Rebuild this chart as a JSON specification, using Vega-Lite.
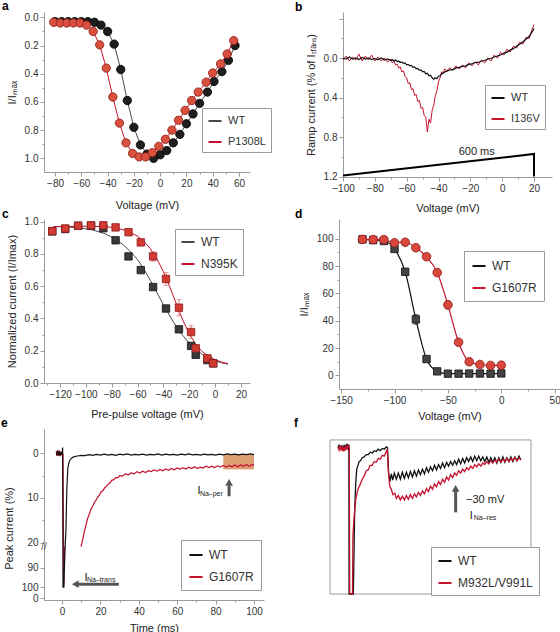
{
"$schema": "https://vega.github.io/schema/vega-lite/v6.json",
"padding": {"left": 0, "top": 0, "right": 0, "bottom": 0},
"config": {
 "font": "Liberation Sans",
 "view": {"stroke": null},
 "axis": {"domainColor": "#9a9a9a", "tickColor": "#9a9a9a", "labelColor": "#333", "titleColor": "#222", "labelFontSize": 10, "titleFontSize": 11, "titleFontWeight": "normal", "grid": false, "tickSize": 4, "labelPadding": 2, "titlePadding": 7, "labelFlush": false, "labelOverlap": false, "tickCount": 60},
 "legend": {"orient": "none", "strokeColor": "#999", "fillColor": "white", "padding": 5, "symbolType": "stroke", "symbolStrokeWidth": 2, "symbolSize": 170, "labelFontSize": 11, "labelColor": "#333", "rowPadding": 8, "labelOffset": 5}
},
"datasets": {
 "a": [
  {"v":-81,"P":0.035,"vw":-80,"W":0.03},{"v":-76,"P":0.04,"vw":-75,"W":0.03},{"v":-71,"P":0.04,"vw":-70,"W":0.03},{"v":-66,"P":0.04,"vw":-65,"W":0.03},{"v":-61,"P":0.04,"vw":-60,"W":0.03},{"v":-56,"P":0.055,"vw":-55,"W":0.03},{"v":-51,"P":0.1,"vw":-50,"W":0.035},{"v":-46,"P":0.195,"vw":-45,"W":0.055},{"v":-41,"P":0.36,"vw":-40,"W":0.1},{"v":-36,"P":0.565,"vw":-35,"W":0.19},{"v":-31,"P":0.75,"vw":-30,"W":0.37},{"v":-26,"P":0.89,"vw":-25,"W":0.59},{"v":-21,"P":0.965,"vw":-20,"W":0.78},{"v":-16,"P":0.99,"vw":-15,"W":0.905},{"v":-11,"P":0.99,"vw":-10,"W":0.97},{"v":-6,"P":0.96,"vw":-5,"W":1.0},{"v":-1,"P":0.915,"vw":0,"W":0.975},{"v":4,"P":0.865,"vw":5,"W":0.945},{"v":9,"P":0.8,"vw":10,"W":0.89},{"v":14,"P":0.73,"vw":15,"W":0.83},{"v":19,"P":0.66,"vw":20,"W":0.755},{"v":24,"P":0.59,"vw":25,"W":0.685},{"v":29,"P":0.53,"vw":30,"W":0.61},{"v":35,"P":0.46,"vw":36,"W":0.53},{"v":40,"P":0.395,"vw":41,"W":0.455},{"v":46,"P":0.33,"vw":47,"W":0.385},{"v":51,"P":0.26,"vw":52,"W":0.305},{"v":56,"P":0.165,"vw":57,"W":0.2}
 ],
 "b": [
  {"v":-100,"W":0.0,"R":0.02},{"v":-98,"W":0.01,"R":-0.02},{"v":-96,"W":-0.01,"R":0.03},{"v":-94,"W":0.01,"R":-0.01},{"v":-92,"W":0.0,"R":0.02},{"v":-90,"W":0.015,"R":-0.04},{"v":-88,"W":-0.005,"R":0.03},{"v":-86,"W":0.01,"R":-0.02},{"v":-84,"W":0.0,"R":0.02},{"v":-82,"W":0.015,"R":-0.03},{"v":-80,"W":0.005,"R":0.03},{"v":-78,"W":0.015,"R":-0.01},{"v":-76,"W":0.0,"R":0.03},{"v":-74,"W":0.02,"R":0.0},{"v":-72,"W":0.01,"R":0.04},{"v":-70,"W":0.025,"R":0.01},{"v":-69,"W":0.015,"R":0.05},{"v":-68,"W":0.03,"R":0.03},{"v":-67,"W":0.02,"R":0.07},{"v":-66,"W":0.035,"R":0.06},{"v":-65,"W":0.03,"R":0.1},{"v":-64,"W":0.045,"R":0.09},{"v":-63,"W":0.04,"R":0.14},{"v":-62,"W":0.055,"R":0.13},{"v":-61,"W":0.05,"R":0.19},{"v":-60,"W":0.07,"R":0.2},{"v":-59,"W":0.065,"R":0.26},{"v":-58,"W":0.08,"R":0.25},{"v":-57,"W":0.075,"R":0.32},{"v":-56,"W":0.095,"R":0.31},{"v":-55,"W":0.09,"R":0.38},{"v":-54,"W":0.11,"R":0.37},{"v":-53,"W":0.105,"R":0.44},{"v":-52,"W":0.125,"R":0.43},{"v":-51,"W":0.12,"R":0.51},{"v":-50,"W":0.14,"R":0.5},{"v":-49,"W":0.135,"R":0.58},{"v":-48,"W":0.16,"R":0.6},{"v":-47,"W":0.155,"R":0.75},{"v":-46,"W":0.18,"R":0.62},{"v":-45,"W":0.175,"R":0.66},{"v":-44,"W":0.2,"R":0.53},{"v":-43,"W":0.215,"R":0.48},{"v":-42,"W":0.2,"R":0.38},{"v":-41,"W":0.21,"R":0.33},{"v":-40,"W":0.185,"R":0.24},{"v":-39,"W":0.18,"R":0.2},{"v":-38,"W":0.16,"R":0.14},{"v":-37,"W":0.155,"R":0.15},{"v":-36,"W":0.14,"R":0.11},{"v":-35,"W":0.135,"R":0.13},{"v":-33,"W":0.12,"R":0.1},{"v":-31,"W":0.12,"R":0.12},{"v":-29,"W":0.1,"R":0.08},{"v":-27,"W":0.095,"R":0.11},{"v":-25,"W":0.085,"R":0.07},{"v":-23,"W":0.08,"R":0.1},{"v":-21,"W":0.065,"R":0.05},{"v":-19,"W":0.06,"R":0.08},{"v":-17,"W":0.045,"R":0.04},{"v":-15,"W":0.045,"R":0.07},{"v":-13,"W":0.03,"R":0.02},{"v":-11,"W":0.025,"R":0.05},{"v":-9,"W":0.01,"R":0.0},{"v":-7,"W":0.005,"R":0.03},{"v":-5,"W":-0.01,"R":-0.03},{"v":-3,"W":-0.02,"R":0.0},{"v":-1,"W":-0.03,"R":-0.06},{"v":1,"W":-0.05,"R":-0.03},{"v":3,"W":-0.06,"R":-0.09},{"v":5,"W":-0.08,"R":-0.06},{"v":7,"W":-0.095,"R":-0.12},{"v":9,"W":-0.12,"R":-0.1},{"v":11,"W":-0.14,"R":-0.16},{"v":13,"W":-0.165,"R":-0.14},{"v":15,"W":-0.19,"R":-0.21},{"v":17,"W":-0.22,"R":-0.2},{"v":19,"W":-0.27,"R":-0.3},{"v":20,"W":-0.3,"R":-0.34}
 ],
 "ramp": [{"v":-100,"r":1.19,"o":1},{"v":20,"r":0.972,"o":2},{"v":20,"r":1.2,"o":3}],
 "c": [
  {"v":-126,"W":0.94,"N":0.942,"eW":0.01,"eN":0.01},{"v":-116,"W":0.955,"N":0.958,"eW":0.01,"eN":0.01},{"v":-106,"W":0.975,"N":0.975,"eW":0.01,"eN":0.01},{"v":-96,"W":0.975,"N":0.978,"eW":0.01,"eN":0.01},{"v":-86.5,"W":0.96,"N":0.978,"eW":0.01,"eN":0.01},{"v":-77,"W":0.885,"N":0.965,"eW":0.012,"eN":0.01},{"v":-67,"W":0.785,"N":0.935,"eW":0.015,"eN":0.01},{"v":-57.5,"W":0.7,"N":0.872,"eW":0.015,"eN":0.02},{"v":-48,"W":0.595,"N":0.785,"eW":0.015,"eN":0.03},{"v":-38,"W":0.462,"N":0.645,"eW":0.015,"eN":0.04},{"v":-28,"W":0.333,"N":0.467,"eW":0.015,"eN":0.05},{"v":-18.6,"W":0.23,"N":0.316,"eW":0.01,"eN":0.04},{"v":-15,"W":0.175,"N":0.215,"eW":0.01,"eN":0.02},{"v":-6,"W":0.142,"N":0.153,"eW":0.01,"eN":0.01},{"v":-1.5,"W":0.122,"N":0.122,"eW":0.01,"eN":0.01}
 ],
 "cfit": [
  {"v":-125,"W":0.97,"N":0.97},{"v":-115,"W":0.968,"N":0.971},{"v":-105,"W":0.962,"N":0.972},{"v":-95,"W":0.95,"N":0.972},{"v":-85,"W":0.925,"N":0.97},{"v":-80,"W":0.905,"N":0.965},{"v":-75,"W":0.88,"N":0.958},{"v":-70,"W":0.85,"N":0.948},{"v":-65,"W":0.81,"N":0.932},{"v":-60,"W":0.765,"N":0.91},{"v":-55,"W":0.705,"N":0.878},{"v":-50,"W":0.635,"N":0.832},{"v":-45,"W":0.56,"N":0.77},{"v":-40,"W":0.485,"N":0.69},{"v":-35,"W":0.415,"N":0.595},{"v":-30,"W":0.35,"N":0.49},{"v":-25,"W":0.295,"N":0.39},{"v":-20,"W":0.248,"N":0.305},{"v":-15,"W":0.21,"N":0.24},{"v":-10,"W":0.178,"N":0.195},{"v":-5,"W":0.155,"N":0.165},{"v":0,"W":0.138,"N":0.145},{"v":5,"W":0.125,"N":0.13},{"v":10,"W":0.117,"N":0.12}
 ],
 "d": [
  {"v":-130,"W":99.5,"R":99.5,"eW":0.8,"eR":0.8},{"v":-120,"W":99,"R":99.3,"eW":0.8,"eR":0.8},{"v":-110,"W":98.3,"R":99.3,"eW":0.8,"eR":0.8},{"v":-100,"W":92.5,"R":97,"eW":1.5,"eR":1},{"v":-90,"W":75.8,"R":97.4,"eW":2.5,"eR":1},{"v":-80,"W":41,"R":93.4,"eW":3.5,"eR":1},{"v":-70,"W":12,"R":86.8,"eW":1.5,"eR":1.5},{"v":-60,"W":3,"R":75.2,"eW":0.8,"eR":2},{"v":-50,"W":1.3,"R":51.6,"eW":0.5,"eR":3},{"v":-40,"W":1.3,"R":24.3,"eW":0.5,"eR":2},{"v":-30,"W":1.4,"R":10,"eW":0.5,"eR":1},{"v":-20,"W":1.4,"R":8,"eW":0.5,"eR":1},{"v":-10,"W":1.3,"R":7.3,"eW":0.5,"eR":1},{"v":0,"W":1.5,"R":7.5,"eW":0.5,"eR":1}
 ],
 "eW": [
  {"t":-3,"v":0.3},{"t":-2.5,"v":-0.4},{"t":-2,"v":0.5},{"t":-1.5,"v":-0.3},{"t":-1,"v":0.4},{"t":-0.5,"v":-0.2},{"t":0,"v":0.1},{"t":0.3,"v":-1.3},{"t":0.5,"v":100},{"t":0.9,"v":100},{"t":1.6,"v":50},{"t":2,"v":17.5},{"t":2.5,"v":8},{"t":3,"v":3.4},{"t":3.5,"v":2.2},{"t":4,"v":1.6},{"t":5,"v":1.1},{"t":6,"v":0.8},{"t":8,"v":0.6},{"t":10,"v":0.45},{"t":12,"v":0.5},{"t":14,"v":0.3},{"t":16,"v":0.45},{"t":18,"v":0.25},{"t":20,"v":0.4},{"t":22,"v":0.2},{"t":24,"v":0.4},{"t":26,"v":0.25},{"t":28,"v":0.45},{"t":30,"v":0.2},{"t":32,"v":0.35},{"t":34,"v":0.15},{"t":36,"v":0.4},{"t":38,"v":0.25},{"t":40,"v":0.35},{"t":42,"v":0.2},{"t":44,"v":0.4},{"t":46,"v":0.25},{"t":48,"v":0.35},{"t":50,"v":0.15},{"t":52,"v":0.4},{"t":54,"v":0.2},{"t":56,"v":0.35},{"t":58,"v":0.25},{"t":60,"v":0.4},{"t":62,"v":0.2},{"t":64,"v":0.35},{"t":66,"v":0.15},{"t":68,"v":0.35},{"t":70,"v":0.25},{"t":72,"v":0.4},{"t":74,"v":0.2},{"t":76,"v":0.35},{"t":78,"v":0.25},{"t":80,"v":0.4},{"t":82,"v":0.2},{"t":84,"v":0.35},{"t":86,"v":0.15},{"t":88,"v":0.3},{"t":90,"v":0.2},{"t":92,"v":0.35},{"t":94,"v":0.2},{"t":96,"v":0.3},{"t":98,"v":0.15},{"t":100,"v":0.3}
 ],
 "eG": [
  {"t":-3,"v":-0.5,"s":1},{"t":-2.7,"v":0.6,"s":1},{"t":-2.4,"v":-0.4,"s":1},{"t":-2.1,"v":0.5,"s":1},{"t":-1.8,"v":-0.6,"s":1},{"t":-1.5,"v":0.4,"s":1},{"t":-1.2,"v":-0.5,"s":1},{"t":-0.9,"v":0.6,"s":1},{"t":-0.6,"v":-0.3,"s":1},{"t":-0.3,"v":0.4,"s":1},{"t":0,"v":0,"s":1},{"t":0.5,"v":0.2,"s":1},{"t":0.9,"v":100,"s":1},{"t":1.3,"v":79,"s":1},
  {"t":9.9,"v":20.9,"s":2},{"t":10.8,"v":19.2,"s":2},{"t":11.6,"v":17.6,"s":2},{"t":12.5,"v":16.0,"s":2},{"t":13.3,"v":14.6,"s":2},{"t":14.2,"v":13.6,"s":2},{"t":15,"v":12.6,"s":2},{"t":15.9,"v":11.9,"s":2},{"t":16.8,"v":11.0,"s":2},{"t":17.7,"v":10.5,"s":2},{"t":18.6,"v":9.8,"s":2},{"t":19.5,"v":9.3,"s":2},{"t":20.4,"v":8.6,"s":2},{"t":21.3,"v":8.4,"s":2},{"t":22.2,"v":7.7,"s":2},{"t":23.1,"v":7.4,"s":2},{"t":24,"v":6.9,"s":2},{"t":25,"v":6.6,"s":2},{"t":26,"v":6.0,"s":2},{"t":27,"v":5.9,"s":2},{"t":28,"v":5.4,"s":2},{"t":29,"v":5.5,"s":2},{"t":30,"v":5.0,"s":2},{"t":31.5,"v":5.1,"s":2},{"t":33,"v":4.6,"s":2},{"t":34.5,"v":4.8,"s":2},{"t":36,"v":4.4,"s":2},{"t":37.5,"v":4.6,"s":2},{"t":39,"v":4.1,"s":2},{"t":40.5,"v":4.4,"s":2},{"t":42,"v":4.0,"s":2},{"t":43.5,"v":4.3,"s":2},{"t":45,"v":3.9,"s":2},{"t":46.5,"v":4.1,"s":2},{"t":48,"v":3.7,"s":2},{"t":49.5,"v":4.0,"s":2},{"t":51,"v":3.6,"s":2},{"t":52.5,"v":3.9,"s":2},{"t":54,"v":3.5,"s":2},{"t":55.5,"v":3.8,"s":2},{"t":57,"v":3.4,"s":2},{"t":58.5,"v":3.7,"s":2},{"t":60,"v":3.3,"s":2},{"t":61.5,"v":3.6,"s":2},{"t":63,"v":3.2,"s":2},{"t":64.5,"v":3.5,"s":2},{"t":66,"v":3.1,"s":2},{"t":67.5,"v":3.4,"s":2},{"t":69,"v":3.0,"s":2},{"t":70.5,"v":3.4,"s":2},{"t":72,"v":3.1,"s":2},{"t":73.5,"v":3.3,"s":2},{"t":75,"v":2.9,"s":2},{"t":76.5,"v":3.2,"s":2},{"t":78,"v":2.9,"s":2},{"t":79.5,"v":3.2,"s":2},{"t":81,"v":2.8,"s":2},{"t":82.5,"v":3.1,"s":2},{"t":84,"v":2.7,"s":2},{"t":85.5,"v":3.1,"s":2},{"t":87,"v":2.7,"s":2},{"t":88.5,"v":3.0,"s":2},{"t":90,"v":2.6,"s":2},{"t":91.5,"v":3.0,"s":2},{"t":93,"v":2.6,"s":2},{"t":94.5,"v":2.9,"s":2},{"t":96,"v":2.5,"s":2},{"t":97.5,"v":2.9,"s":2},{"t":99,"v":2.5,"s":2},{"t":100,"v":2.7,"s":2}
 ],
 "fW": [
  {"t":4,"v":5.5},{"t":4.5,"v":3},{"t":5,"v":6},{"t":5.5,"v":3.5},{"t":6,"v":6.5},{"t":6.5,"v":4},{"t":7,"v":6},{"t":7.5,"v":3},{"t":8,"v":5.5},{"t":8.5,"v":2.5},{"t":9,"v":5},{"t":9.4,"v":3},{"t":9.5,"v":100},{"t":11.6,"v":100},{"t":12.3,"v":45},{"t":12.8,"v":28},{"t":13.3,"v":19},{"t":13.8,"v":17},{"t":14.5,"v":14},{"t":15.2,"v":13.5},{"t":16,"v":11.5},{"t":17,"v":11},{"t":18,"v":9.5},{"t":19,"v":9.5},{"t":20,"v":8},{"t":21,"v":8.5},{"t":22,"v":7},{"t":23,"v":7.5},{"t":24,"v":6},{"t":25,"v":7},{"t":26,"v":5.5},{"t":27,"v":6},{"t":28,"v":4.5},{"t":28.6,"v":5},{"t":29.2,"v":22},{"t":29.8,"v":27},{"t":30.5,"v":22},{"t":31.2,"v":26},{"t":32,"v":21.5},{"t":33,"v":25.5},{"t":34,"v":21.5},{"t":35,"v":25.5},{"t":36,"v":21},{"t":37,"v":25},{"t":38,"v":21},{"t":39,"v":24.5},{"t":40,"v":20.5},{"t":41,"v":24},{"t":42,"v":20},{"t":43,"v":23.5},{"t":44,"v":19.5},{"t":45,"v":22.5},{"t":46,"v":19},{"t":47,"v":22},{"t":48,"v":18},{"t":49,"v":21},{"t":50,"v":17.5},{"t":51,"v":20},{"t":52,"v":16.5},{"t":53,"v":19.5},{"t":54,"v":16},{"t":55,"v":18.5},{"t":56,"v":15},{"t":57,"v":18},{"t":58,"v":14.5},{"t":59,"v":17},{"t":60,"v":14},{"t":61,"v":16.5},{"t":62,"v":13.5},{"t":63,"v":16},{"t":64,"v":12.5},{"t":65,"v":15.5},{"t":66,"v":12},{"t":67,"v":15},{"t":68,"v":11.5},{"t":69,"v":14},{"t":70,"v":11},{"t":71,"v":14},{"t":72,"v":10.5},{"t":73,"v":13.5},{"t":74,"v":10.5},{"t":75,"v":13.5},{"t":76,"v":11},{"t":77,"v":14},{"t":78,"v":11},{"t":79,"v":14.5},{"t":80,"v":11.5},{"t":81,"v":14.5},{"t":82,"v":11.5},{"t":83,"v":15},{"t":84,"v":11.5},{"t":85,"v":14.5},{"t":86,"v":11},{"t":87,"v":14.5},{"t":88,"v":11.5},{"t":89,"v":14},{"t":90,"v":11},{"t":91,"v":14},{"t":92,"v":11},{"t":93,"v":13.5},{"t":94,"v":10.5},{"t":95,"v":13}
 ],
 "fM": [
  {"t":4,"v":4.5},{"t":4.5,"v":6.5},{"t":5,"v":3.5},{"t":5.5,"v":7},{"t":6,"v":4},{"t":6.5,"v":7.5},{"t":7,"v":4.5},{"t":7.5,"v":7},{"t":8,"v":3.5},{"t":8.5,"v":6.5},{"t":9,"v":3.5},{"t":9.6,"v":5},{"t":9.8,"v":100},{"t":11.2,"v":100},{"t":11.4,"v":62},{"t":12.1,"v":48},{"t":12.9,"v":38},{"t":13.5,"v":34},{"t":14.2,"v":31},{"t":15,"v":29},{"t":16,"v":25.5},{"t":17,"v":23.5},{"t":18,"v":20},{"t":19,"v":19.5},{"t":20,"v":16.5},{"t":21,"v":16.5},{"t":22,"v":14},{"t":23,"v":14.5},{"t":24,"v":12},{"t":25,"v":12.5},{"t":26,"v":10},{"t":27,"v":10.5},{"t":28,"v":7.5},{"t":28.5,"v":6},{"t":29,"v":20},{"t":29.7,"v":30},{"t":30.5,"v":32},{"t":31.3,"v":35.5},{"t":32.2,"v":34.5},{"t":33,"v":38},{"t":34,"v":36},{"t":35,"v":39},{"t":36,"v":36.5},{"t":37,"v":39},{"t":38,"v":36},{"t":39,"v":38.5},{"t":40,"v":35.5},{"t":41,"v":38},{"t":42,"v":35},{"t":43,"v":37},{"t":44,"v":34},{"t":45,"v":36},{"t":46,"v":33},{"t":47,"v":35},{"t":48,"v":31.5},{"t":49,"v":33.5},{"t":50,"v":30},{"t":51,"v":32},{"t":52,"v":28.5},{"t":53,"v":30.5},{"t":54,"v":27},{"t":55,"v":29},{"t":56,"v":25.5},{"t":57,"v":27.5},{"t":58,"v":24},{"t":59,"v":26},{"t":60,"v":22.5},{"t":61,"v":24.5},{"t":62,"v":21.5},{"t":63,"v":23},{"t":64,"v":20},{"t":65,"v":21.5},{"t":66,"v":19},{"t":67,"v":20.5},{"t":68,"v":18},{"t":69,"v":19.5},{"t":70,"v":17},{"t":71,"v":18.5},{"t":72,"v":16},{"t":73,"v":17.5},{"t":74,"v":15.5},{"t":75,"v":17},{"t":76,"v":15},{"t":77,"v":16},{"t":78,"v":14},{"t":79,"v":15.5},{"t":80,"v":13.5},{"t":81,"v":15},{"t":82,"v":13},{"t":83,"v":14.5},{"t":84,"v":12.5},{"t":85,"v":14.5},{"t":86,"v":12.5},{"t":87,"v":14},{"t":88,"v":12},{"t":89,"v":14},{"t":90,"v":12},{"t":91,"v":13.5},{"t":92,"v":11.5},{"t":93,"v":13.5},{"t":94,"v":11.5},{"t":95,"v":13}
 ]
},
"spacing": -5,
"resolve": {"scale": {"color": "independent"}, "legend": {"color": "independent"}},
"vconcat": [
 {
  "spacing": 22,
  "resolve": {"scale": {"color": "independent", "x": "independent", "y": "independent"}, "legend": {"color": "independent"}},
  "hconcat": [
   {
    "width": 206, "height": 160,
    "data": {"name": "a"},
    "layer": [
     {"mark": {"type": "line", "strokeWidth": 1},
      "encoding": {
       "x": {"field": "vw", "type": "quantitative", "title": "Voltage (mV)", "scale": {"domain": [-88.4, 68.4], "nice": false, "zero": false},
             "axis": {"values": [-80,-70,-60,-50,-40,-30,-20,-10,0,10,20,30,40,50,60], "tickCount": 60, "labelOverlap": false, "titlePadding": 11, "labelExpr": "datum.value % 20 === 0 ? datum.label : ''", "tickSize": {"condition": {"test": "datum.value % 20 !== 0", "value": 2}, "value": 4}}},
       "y": {"field": "W", "type": "quantitative", "title": "I/Iₘₐₓ", "scale": {"domain": [-0.038, 1.097], "reverse": true, "nice": false, "zero": false},
             "axis": {"values": [0,0.1,0.2,0.3,0.4,0.5,0.6,0.7,0.8,0.9,1.0], "tickCount": 60, "labelOverlap": false, "format": ".1f", "labelExpr": "round(datum.value*10) % 2 === 0 ? datum.label : ''", "tickSize": {"condition": {"test": "round(datum.value*10) % 2 !== 0", "value": 2}, "value": 4}}},
       "color": {"datum": "WT", "scale": {"domain": ["WT", "P1308L"], "range": ["#4a4a4a", "#c4122f"]}, "legend": {"title": null, "legendX": 158, "legendY": 96}}
      }},
     {"mark": {"type": "point", "filled": true, "fill": "#1e1e1e", "stroke": "#000", "strokeWidth": 0.8, "size": 70, "opacity": 1},
      "encoding": {"x": {"field": "vw", "type": "quantitative", "title": "Voltage (mV)"}, "y": {"field": "W", "type": "quantitative", "title": "I/Iₘₐₓ"}}},
     {"mark": {"type": "line", "strokeWidth": 1},
      "encoding": {"x": {"field": "v", "type": "quantitative", "title": "Voltage (mV)"}, "y": {"field": "P", "type": "quantitative", "title": "I/Iₘₐₓ"}, "color": {"datum": "P1308L"}}},
     {"mark": {"type": "point", "filled": true, "fill": "#d9503f", "stroke": "#8a1c12", "strokeWidth": 0.8, "size": 70, "opacity": 1},
      "encoding": {"x": {"field": "v", "type": "quantitative", "title": "Voltage (mV)"}, "y": {"field": "P", "type": "quantitative", "title": "I/Iₘₐₓ"}}},
     {"data": {"values": [{"x": -120.4, "y": -0.049, "txt": "a"}]}, "mark": {"type": "text", "fontSize": 12, "fontWeight": "bold", "align": "left", "baseline": "alphabetic", "color": "#000", "fill": "#000"},
      "encoding": {"x": {"field": "x", "type": "quantitative", "title": "Voltage (mV)"}, "y": {"field": "y", "type": "quantitative", "title": "I/Iₘₐₓ"}, "text": {"field": "txt"}}}
    ]
   },
   {
    "width": 209, "height": 165,
    "layer": [
     {"data": {"name": "b"}, "mark": {"type": "line", "strokeWidth": 1},
      "encoding": {
       "x": {"field": "v", "type": "quantitative", "title": "Voltage (mV)", "scale": {"domain": [-100, 31.3], "nice": false, "zero": false},
             "axis": {"values": [-100,-90,-80,-70,-60,-50,-40,-30,-20,-10,0,10,20], "tickCount": 60, "labelOverlap": false, "titlePadding": 9, "labelExpr": "datum.value % 20 === 0 ? datum.label : ''", "tickSize": {"condition": {"test": "datum.value % 20 !== 0", "value": 2}, "value": 4}}},
       "y": {"field": "R", "type": "quantitative", "title": "Ramp current (% of Iₜᵣₐₙₛ)", "scale": {"domain": [-0.466, 1.205], "reverse": true, "nice": false, "zero": false},
             "axis": {"values": [-0.4,-0.2,0,0.2,0.4,0.6,0.8,1.0,1.2], "tickCount": 60, "labelOverlap": false, "format": ".1f", "labelExpr": "datum.value >= 0 && round(datum.value*10) % 4 === 0 ? datum.label : ''", "tickSize": {"condition": {"test": "round(datum.value*10) % 4 !== 0", "value": 2}, "value": 4}}},
       "color": {"datum": "I136V", "scale": {"domain": ["WT", "I136V"], "range": ["#111111", "#c4122f"]}, "legend": {"title": null, "legendX": 142, "legendY": 73}}
      }},
     {"data": {"name": "b"}, "mark": {"type": "line", "strokeWidth": 1.2},
      "encoding": {"x": {"field": "v", "type": "quantitative", "title": "Voltage (mV)"}, "y": {"field": "W", "type": "quantitative", "title": "Ramp current (% of Iₜᵣₐₙₛ)"}, "color": {"datum": "WT"}}},
     {"data": {"name": "ramp"}, "mark": {"type": "line", "strokeWidth": 2, "color": "#000"},
      "encoding": {"x": {"field": "v", "type": "quantitative", "title": "Voltage (mV)"}, "y": {"field": "r", "type": "quantitative", "title": "Ramp current (% of Iₜᵣₐₙₛ)"}, "order": {"field": "o", "type": "quantitative"}}},
     {"data": {"values": [{"v": -16, "r": 1.0, "txt": "600 ms"}]}, "mark": {"type": "text", "fontSize": 11, "baseline": "bottom", "align": "center", "color": "#222", "fill": "#222"},
      "encoding": {"x": {"field": "v", "type": "quantitative", "title": "Voltage (mV)"}, "y": {"field": "r", "type": "quantitative", "title": "Ramp current (% of Iₜᵣₐₙₛ)"}, "text": {"field": "txt"}}},
     {"data": {"values": [{"v": -130.2, "r": -0.481, "txt": "b"}]}, "mark": {"type": "text", "fontSize": 12, "fontWeight": "bold", "align": "left", "baseline": "alphabetic", "color": "#000", "fill": "#000"},
      "encoding": {"x": {"field": "v", "type": "quantitative", "title": "Voltage (mV)"}, "y": {"field": "r", "type": "quantitative", "title": "Ramp current (% of Iₜᵣₐₙₛ)"}, "text": {"field": "txt"}}}
    ]
   }
  ]
 },
 {
  "spacing": 45,
  "resolve": {"scale": {"color": "independent", "x": "independent", "y": "independent"}, "legend": {"color": "independent"}},
  "hconcat": [
   {
    "width": 206, "height": 164,
    "layer": [
     {"data": {"name": "cfit"}, "mark": {"type": "line", "strokeWidth": 1},
      "encoding": {
       "x": {"field": "v", "type": "quantitative", "title": "Pre-pulse voltage (mV)", "scale": {"domain": [-132.4, 27], "nice": false, "zero": false},
             "axis": {"values": [-130,-120,-110,-100,-90,-80,-70,-60,-50,-40,-30,-20,-10,0,10,20], "tickCount": 60, "labelOverlap": false, "titlePadding": 9, "labelExpr": "datum.value % 20 === 0 ? datum.label : ''", "tickSize": {"condition": {"test": "datum.value % 20 !== 0", "value": 2}, "value": 4}}},
       "y": {"field": "W", "type": "quantitative", "title": "Normalized current (I/Imax)", "scale": {"domain": [0, 1.017], "nice": false, "zero": false},
             "axis": {"values": [0,0.1,0.2,0.3,0.4,0.5,0.6,0.7,0.8,0.9,1.0], "tickCount": 60, "labelOverlap": false, "format": ".1f", "labelExpr": "round(datum.value*10) % 2 === 0 ? datum.label : ''", "tickSize": {"condition": {"test": "round(datum.value*10) % 2 !== 0", "value": 2}, "value": 4}}},
       "color": {"datum": "WT", "scale": {"domain": ["WT", "N395K"], "range": ["#4a4a4a", "#c4122f"]}, "legend": {"title": null, "legendX": 131, "legendY": 10, "labelFontSize": 12}}
      }},
     {"data": {"name": "cfit"}, "mark": {"type": "line", "strokeWidth": 1},
      "encoding": {"x": {"field": "v", "type": "quantitative", "title": "Pre-pulse voltage (mV)"}, "y": {"field": "N", "type": "quantitative", "title": "Normalized current (I/Imax)"}, "color": {"datum": "N395K"}}},
     {"data": {"name": "c"}, "mark": {"type": "errorbar", "ticks": true, "color": "#555"},
      "encoding": {"x": {"field": "v", "type": "quantitative", "title": "Pre-pulse voltage (mV)"}, "y": {"field": "W", "type": "quantitative", "title": "Normalized current (I/Imax)"}, "yError": {"field": "eW"}}},
     {"data": {"name": "c"}, "mark": {"type": "square", "filled": true, "fill": "#3a3a3a", "stroke": "#111", "strokeWidth": 0.8, "size": 55, "opacity": 1},
      "encoding": {"x": {"field": "v", "type": "quantitative", "title": "Pre-pulse voltage (mV)"}, "y": {"field": "W", "type": "quantitative", "title": "Normalized current (I/Imax)"}}},
     {"data": {"name": "c"}, "mark": {"type": "errorbar", "ticks": true, "color": "#e07a7a"},
      "encoding": {"x": {"field": "v", "type": "quantitative", "title": "Pre-pulse voltage (mV)"}, "y": {"field": "N", "type": "quantitative", "title": "Normalized current (I/Imax)"}, "yError": {"field": "eN"}}},
     {"data": {"name": "c"}, "mark": {"type": "square", "filled": true, "fill": "#d23a32", "stroke": "#8b1a1a", "strokeWidth": 0.8, "size": 55, "opacity": 1},
      "encoding": {"x": {"field": "v", "type": "quantitative", "title": "Pre-pulse voltage (mV)"}, "y": {"field": "N", "type": "quantitative", "title": "Normalized current (I/Imax)"}}},
     {"data": {"values": [{"v": -164.9, "y": 1.023, "txt": "c"}]}, "mark": {"type": "text", "fontSize": 12, "fontWeight": "bold", "align": "left", "baseline": "alphabetic", "color": "#000", "fill": "#000"},
      "encoding": {"x": {"field": "v", "type": "quantitative", "title": "Pre-pulse voltage (mV)"}, "y": {"field": "y", "type": "quantitative", "title": "Normalized current (I/Imax)"}, "text": {"field": "txt"}}}
    ]
   },
   {
    "width": 221, "height": 170,
    "data": {"name": "d"},
    "layer": [
     {"mark": {"type": "line", "strokeWidth": 1.2, "interpolate": "monotone"},
      "encoding": {
       "x": {"field": "v", "type": "quantitative", "title": "Voltage (mV)", "scale": {"domain": [-152, 55], "nice": false, "zero": false},
             "axis": {"values": [-150,-125,-100,-75,-50,-25,0,25,50], "tickCount": 60, "labelOverlap": false, "titlePadding": 5, "labelExpr": "datum.value % 50 === 0 ? datum.label : ''", "tickSize": {"condition": {"test": "datum.value % 50 !== 0", "value": 2}, "value": 4}}},
       "y": {"field": "W", "type": "quantitative", "title": "I/Iₘₐₓ", "scale": {"domain": [-9.9, 114.4], "nice": false, "zero": false},
             "axis": {"values": [0,10,20,30,40,50,60,70,80,90,100], "tickCount": 60, "labelOverlap": false, "labelExpr": "datum.value % 20 === 0 ? datum.label : ''", "tickSize": {"condition": {"test": "datum.value % 20 !== 0", "value": 2}, "value": 4}}},
       "color": {"datum": "WT", "scale": {"domain": ["WT", "G1607R"], "range": ["#111111", "#c4122f"]}, "legend": {"title": null, "legendX": 125, "legendY": 32, "labelFontSize": 12, "padding": 7}}
      }},
     {"mark": {"type": "line", "strokeWidth": 1.2, "interpolate": "monotone"},
      "encoding": {"x": {"field": "v", "type": "quantitative", "title": "Voltage (mV)"}, "y": {"field": "R", "type": "quantitative", "title": "I/Iₘₐₓ"}, "color": {"datum": "G1607R"}}},
     {"mark": {"type": "errorbar", "ticks": true, "color": "#222"},
      "encoding": {"x": {"field": "v", "type": "quantitative", "title": "Voltage (mV)"}, "y": {"field": "W", "type": "quantitative", "title": "I/Iₘₐₓ"}, "yError": {"field": "eW"}}},
     {"mark": {"type": "square", "filled": true, "fill": "#444", "stroke": "#111", "strokeWidth": 0.8, "size": 55, "opacity": 1},
      "encoding": {"x": {"field": "v", "type": "quantitative", "title": "Voltage (mV)"}, "y": {"field": "W", "type": "quantitative", "title": "I/Iₘₐₓ"}}},
     {"mark": {"type": "errorbar", "ticks": true, "color": "#a22"},
      "encoding": {"x": {"field": "v", "type": "quantitative", "title": "Voltage (mV)"}, "y": {"field": "R", "type": "quantitative", "title": "I/Iₘₐₓ"}, "yError": {"field": "eR"}}},
     {"mark": {"type": "point", "filled": true, "fill": "#d9473c", "stroke": "#8b1a1a", "strokeWidth": 0.8, "size": 75, "opacity": 1},
      "encoding": {"x": {"field": "v", "type": "quantitative", "title": "Voltage (mV)"}, "y": {"field": "R", "type": "quantitative", "title": "I/Iₘₐₓ"}}},
     {"data": {"values": [{"v": -193.2, "W": 115.1, "txt": "d"}]}, "mark": {"type": "text", "fontSize": 12, "fontWeight": "bold", "align": "left", "baseline": "alphabetic", "color": "#000", "fill": "#000"},
      "encoding": {"x": {"field": "v", "type": "quantitative", "title": "Voltage (mV)"}, "y": {"field": "W", "type": "quantitative", "title": "I/Iₘₐₓ"}, "text": {"field": "txt"}}}
    ]
   }
  ]
 },
 {
  "spacing": 30,
  "resolve": {"scale": {"color": "independent", "x": "independent", "y": "independent"}, "legend": {"color": "independent"}},
  "hconcat": [
   {
    "width": 220, "height": 171,
    "layer": [
     {"data": {"values": [{"t1": 84, "t2": 100, "y1": 0.2, "y2": 3.6}]}, "mark": {"type": "rect", "color": "#d4864f", "opacity": 0.8},
      "encoding": {
       "x": {"field": "t1", "type": "quantitative", "title": "Time (ms)", "scale": {"domain": [-9.4, 105.2], "nice": false, "zero": false},
             "axis": {"values": [0,10,20,30,40,50,60,70,80,90,100], "tickCount": 60, "labelOverlap": false, "titlePadding": 6, "labelExpr": "datum.value % 20 === 0 ? datum.label : ''", "tickSize": {"condition": {"test": "datum.value % 20 !== 0", "value": 2}, "value": 4}}},
       "x2": {"field": "t2"},
       "y": {"field": "y1", "type": "quantitative", "title": "Peak current (%)", "scale": {"domain": [-5.44, 20.9, 79.1, 106.7], "range": [0, 117.7, 117.7, 171], "nice": false, "zero": false},
             "axis": {"values": [0,5,10,15,20,90,100,105.8], "tickCount": 60, "labelOverlap": false, "titleY": 99, "labelExpr": "datum.value > 105 ? '0' : (datum.value % 10 === 0 ? datum.label : '')", "tickSize": {"condition": {"test": "datum.value === 5 || datum.value === 15", "value": 2}, "value": 4}}},
       "y2": {"field": "y2"}
      }},
     {"data": {"name": "eG"}, "mark": {"type": "line", "strokeWidth": 1.2},
      "encoding": {"x": {"field": "t", "type": "quantitative", "title": "Time (ms)"}, "y": {"field": "v", "type": "quantitative", "title": "Peak current (%)"}, "detail": {"field": "s", "type": "nominal"},
       "color": {"datum": "G1607R", "scale": {"domain": ["WT", "G1607R"], "range": ["#111111", "#c4122f"]}, "legend": {"title": null, "legendX": 137, "legendY": 111, "labelFontSize": 12, "padding": 7}}}},
     {"data": {"name": "eW"}, "mark": {"type": "line", "strokeWidth": 1.2},
      "encoding": {"x": {"field": "t", "type": "quantitative", "title": "Time (ms)"}, "y": {"field": "v", "type": "quantitative", "title": "Peak current (%)"}, "color": {"datum": "WT"}}},
     {"data": {"values": [{"t": 87, "a": 9.6, "b": 7.2}, {"t": 29.6, "a": 98.5, "b": 98.5, "t2": 8}]}, "mark": {"type": "rule", "strokeWidth": 3, "color": "#555"},
      "encoding": {"x": {"field": "t", "type": "quantitative", "title": "Time (ms)"}, "x2": {"field": "t2"}, "y": {"field": "a", "type": "quantitative", "title": "Peak current (%)"}, "y2": {"field": "b"}}},
     {"data": {"values": [{"t": 87, "v": 6.5, "sh": "triangle-up"}, {"t": 6.9, "v": 98.5, "sh": "triangle-left"}]}, "mark": {"type": "point", "filled": true, "color": "#555", "size": 60, "opacity": 1},
      "encoding": {"x": {"field": "t", "type": "quantitative", "title": "Time (ms)"}, "y": {"field": "v", "type": "quantitative", "title": "Peak current (%)"}, "shape": {"field": "sh", "type": "nominal", "scale": null}}},
     {"data": {"values": [{"t": 70.5, "v": 9.0, "txt": "I"}, {"t": 11.7, "v": 96.9, "txt": "I"}]}, "mark": {"type": "text", "fontSize": 11, "align": "left", "baseline": "alphabetic", "color": "#222", "fill": "#222"},
      "encoding": {"x": {"field": "t", "type": "quantitative", "title": "Time (ms)"}, "y": {"field": "v", "type": "quantitative", "title": "Peak current (%)"}, "text": {"field": "txt"}}},
     {"data": {"values": [{"t": 71.8, "v": 9.5, "txt": "Na–per"}, {"t": 13, "v": 97.6, "txt": "Na–trans"}]}, "mark": {"type": "text", "fontSize": 7, "align": "left", "baseline": "alphabetic", "color": "#222", "fill": "#222"},
      "encoding": {"x": {"field": "t", "type": "quantitative", "title": "Time (ms)"}, "y": {"field": "v", "type": "quantitative", "title": "Peak current (%)"}, "text": {"field": "txt"}}},
     {"data": {"values": [{"t": -9.4, "v": 20.9, "txt": "//"}]}, "mark": {"type": "text", "fontSize": 10, "align": "center", "baseline": "middle", "color": "#555", "fill": "#555"},
      "encoding": {"x": {"field": "t", "type": "quantitative", "title": "Time (ms)"}, "y": {"field": "v", "type": "quantitative", "title": "Peak current (%)"}, "text": {"field": "txt"}}},
     {"data": {"values": [{"t": -31.8, "v": -5.89, "txt": "e"}]}, "mark": {"type": "text", "fontSize": 12, "fontWeight": "bold", "align": "left", "baseline": "alphabetic", "color": "#000", "fill": "#000"},
      "encoding": {"x": {"field": "t", "type": "quantitative", "title": "Time (ms)"}, "y": {"field": "v", "type": "quantitative", "title": "Peak current (%)"}, "text": {"field": "txt"}}}
    ]
   },
   {
    "width": 201, "height": 171,
    "layer": [
     {"data": {"values": [{"x1": 0, "x2": 100, "y1": 0, "y2": 100}]}, "mark": {"type": "rect", "fill": "transparent", "stroke": "#999", "strokeWidth": 1},
      "encoding": {
       "x": {"field": "x1", "type": "quantitative", "scale": {"domain": [0, 100], "nice": false, "zero": false}, "axis": null},
       "x2": {"field": "x2"},
       "y": {"field": "y1", "type": "quantitative", "scale": {"domain": [-7.1, 103.9], "reverse": true, "nice": false, "zero": false}, "axis": null},
       "y2": {"field": "y2"}
      }},
     {"data": {"name": "fW"}, "mark": {"type": "line", "strokeWidth": 1.3},
      "encoding": {"x": {"field": "t", "type": "quantitative"}, "y": {"field": "v", "type": "quantitative"},
       "color": {"datum": "WT", "scale": {"domain": ["WT", "M932L/V991L"], "range": ["#111111", "#c4122f"]}, "legend": {"title": null, "legendX": 101, "legendY": 118, "labelFontSize": 12, "padding": 6}}}},
     {"data": {"name": "fM"}, "mark": {"type": "line", "strokeWidth": 1.3},
      "encoding": {"x": {"field": "t", "type": "quantitative"}, "y": {"field": "v", "type": "quantitative"}, "color": {"datum": "M932L/V991L"}}},
     {"data": {"values": [{"t": 62.5, "a": 47, "b": 33}]}, "mark": {"type": "rule", "strokeWidth": 3, "color": "#555"},
      "encoding": {"x": {"field": "t", "type": "quantitative"}, "y": {"field": "a", "type": "quantitative"}, "y2": {"field": "b"}}},
     {"data": {"values": [{"t": 62.5, "v": 31.5}]}, "mark": {"type": "point", "shape": "triangle-up", "filled": true, "color": "#555", "size": 60, "opacity": 1},
      "encoding": {"x": {"field": "t", "type": "quantitative"}, "y": {"field": "v", "type": "quantitative"}}},
     {"data": {"values": [{"t": 67.7, "v": 38.7, "txt": "−30 mV"}]}, "mark": {"type": "text", "fontSize": 11, "align": "left", "baseline": "middle", "color": "#222", "fill": "#222"},
      "encoding": {"x": {"field": "t", "type": "quantitative"}, "y": {"field": "v", "type": "quantitative"}, "text": {"field": "txt"}}},
     {"data": {"values": [{"t": 69.5, "v": 51, "txt": "I"}]}, "mark": {"type": "text", "fontSize": 11, "align": "left", "baseline": "alphabetic", "color": "#222", "fill": "#222"},
      "encoding": {"x": {"field": "t", "type": "quantitative"}, "y": {"field": "v", "type": "quantitative"}, "text": {"field": "txt"}}},
     {"data": {"values": [{"t": 71.5, "v": 52, "txt": "Na–res"}]}, "mark": {"type": "text", "fontSize": 7, "align": "left", "baseline": "alphabetic", "color": "#222", "fill": "#222"},
      "encoding": {"x": {"field": "t", "type": "quantitative"}, "y": {"field": "v", "type": "quantitative"}, "text": {"field": "txt"}}},
     {"data": {"values": [{"t": -17.9, "v": -8.4, "txt": "f"}]}, "mark": {"type": "text", "fontSize": 12, "fontWeight": "bold", "align": "left", "baseline": "alphabetic", "color": "#000", "fill": "#000"},
      "encoding": {"x": {"field": "t", "type": "quantitative"}, "y": {"field": "v", "type": "quantitative"}, "text": {"field": "txt"}}}
    ]
   }
  ]
 }
]
}
